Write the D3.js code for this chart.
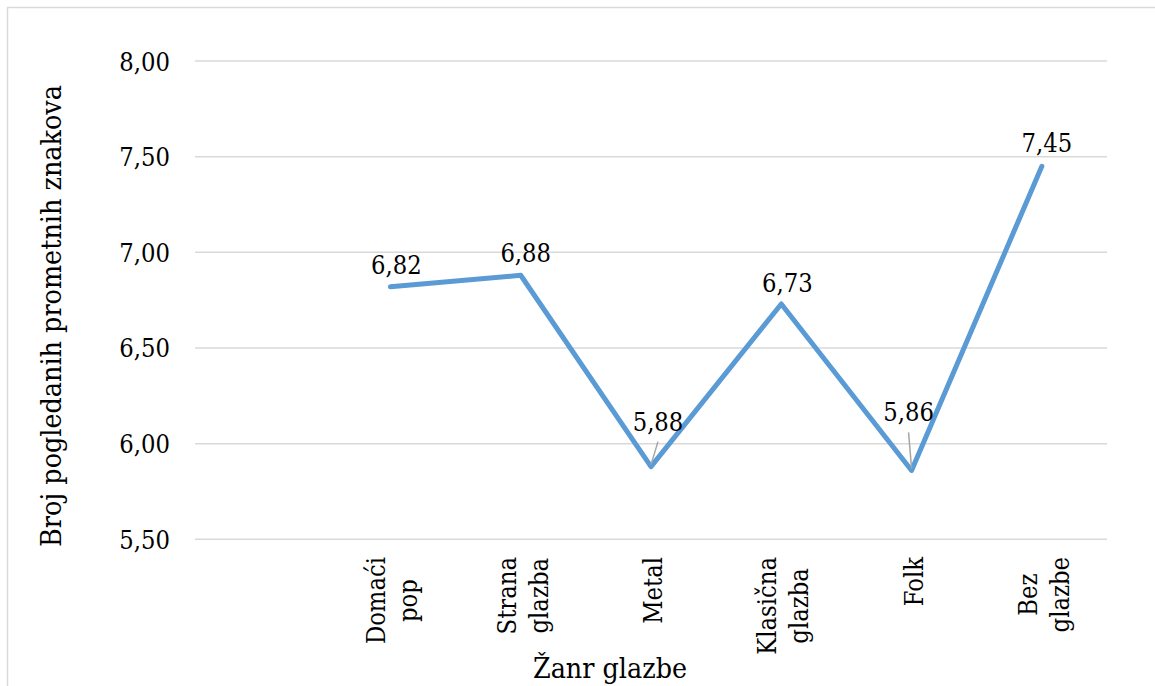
<!DOCTYPE html>
<html>
<head>
<meta charset="utf-8">
<script src="https://cdn.jsdelivr.net/npm/d3@7"></script>
<style>
  body { margin:0; background:#fff; }
</style>
</head>
<body>
<svg id="chart"></svg>
<script>
// categories (first slot is empty in the original chart)
var categories = ['', 'Domaći pop', 'Strana glazba', 'Metal', 'Klasična glazba', 'Folk', 'Bez glazbe'];
var values = [null, 6.82, 6.88, 5.88, 6.73, 5.86, 7.45];
var yTicks = [5.5, 6.0, 6.5, 7.0, 7.5, 8.0];
var yTitle = 'Broj pogledanih prometnih znakova';
var xTitle = 'Žanr glazbe';

var W = 1155, H = 686;
var FONT = '"DejaVu Serif Condensed", "DejaVu Serif", serif';
var svg = d3.select('#chart').attr('width', W).attr('height', H)
  .style('display', 'block')
  .attr('font-family', FONT);

// pick a font size so a sample string gets the width it has in the source
function fitSize(sample, target) {
  var t = svg.append('text').attr('font-size', 100).text(sample);
  var w = t.node().getComputedTextLength();
  t.remove();
  return 100 * target / w;
}
var fs = fitSize('8,00', 50.7);
var fsTitle = fitSize(yTitle, 462);

// chart area border (clipped at right and bottom like the source)
svg.append('rect')
  .attr('x', 7.5).attr('y', 7.5)
  .attr('width', W + 20).attr('height', H + 20)
  .attr('fill', '#fff')
  .attr('stroke', '#d9d9d9')
  .attr('stroke-width', 1.5);

var x = d3.scaleBand().domain(d3.range(categories.length)).range([195, 1107]);
var y = d3.scaleLinear().domain([5.5, 8.0]).range([539.3, 61]);
var fmt = function(v){ return d3.format('.2f')(v).replace('.', ','); };

// gridlines
svg.append('g').selectAll('line')
  .data(yTicks)
  .enter().append('line')
    .attr('x1', 195).attr('x2', 1107)
    .attr('y1', function(d){ return y(d); })
    .attr('y2', function(d){ return y(d); })
    .attr('stroke', '#d9d9d9')
    .attr('stroke-width', 1.5);

// y tick labels
svg.append('g').selectAll('text')
  .data(yTicks)
  .enter().append('text')
    .attr('x', 170)
    .attr('y', function(d){ return y(d) + 9.5; })
    .attr('text-anchor', 'end')
    .attr('font-size', fs)
    .attr('fill', '#000')
    .text(fmt);

// x tick labels: rotated, wrapped into two lines, lines centered in the block
var xl = svg.append('g').selectAll('g')
  .data(categories.map(function(c, i){ return {name:c, i:i}; }).filter(function(d){ return d.name; }))
  .enter().append('g')
    .attr('transform', function(d){ return 'translate(' + (x(d.i) + x.bandwidth()/2) + ',557) rotate(-90)'; });

xl.each(function(d){
  var g = d3.select(this);
  var lines = d.name.split(' ');
  var texts = lines.map(function(s, k){
    return g.append('text')
      .attr('font-size', fs)
      .attr('fill', '#000')
      .attr('text-anchor', 'middle')
      .attr('y', 11 + (k - (lines.length - 1)/2) * 32)
      .text(s);
  });
  var maxW = d3.max(texts, function(t){ return t.node().getComputedTextLength(); });
  texts.forEach(function(t){ t.attr('x', -maxW/2); });
});

// line
var line = d3.line()
  .defined(function(d){ return d != null; })
  .x(function(d, i){ return x(i) + x.bandwidth()/2; })
  .y(function(d){ return y(d); });

svg.append('path')
  .datum(values)
  .attr('d', line)
  .attr('fill', 'none')
  .attr('stroke', '#5b9bd5')
  .attr('stroke-width', 5)
  .attr('stroke-linecap', 'round')
  .attr('stroke-linejoin', 'round');

// data labels; a few were dragged off the point and get a leader line
var labelShift = [null, [6,-13], [5,-13], [7,-36], [6,-12], [-3,-49], [5,-14]];
var pts = values.map(function(v, i){
  return v == null ? null : {v:v, i:i, px:x(i) + x.bandwidth()/2, py:y(v), s:labelShift[i]};
}).filter(function(d){ return d; });

svg.append('g').selectAll('line')
  .data(pts.filter(function(d){ return d.s[1] < -20; }))
  .enter().append('line')
    .attr('x1', function(d){ return d.px; })
    .attr('y1', function(d){ return d.py - 2; })
    .attr('x2', function(d){ return d.px + d.s[0]; })
    .attr('y2', function(d){ return d.py + d.s[1] + 11; })
    .attr('stroke', '#a6a6a6')
    .attr('stroke-width', 1.5);

svg.append('g').selectAll('text')
  .data(pts)
  .enter().append('text')
    .attr('x', function(d){ return d.px + d.s[0]; })
    .attr('y', function(d){ return d.py + d.s[1]; })
    .attr('text-anchor', 'middle')
    .attr('font-size', fs)
    .attr('fill', '#000')
    .text(function(d){ return fmt(d.v); });

// axis titles
svg.append('text')
  .attr('transform', 'translate(61,316) rotate(-90)')
  .attr('text-anchor', 'middle')
  .attr('font-size', fsTitle)
  .attr('fill', '#000')
  .text(yTitle);

svg.append('text')
  .attr('x', 610).attr('y', 678)
  .attr('text-anchor', 'middle')
  .attr('font-size', fsTitle)
  .attr('fill', '#000')
  .text(xTitle);
</script>
</body>
</html>
